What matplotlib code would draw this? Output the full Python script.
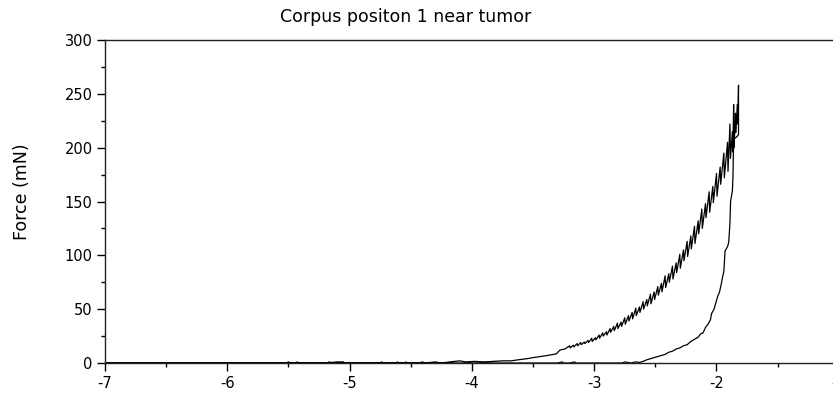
import numpy as np
import matplotlib
matplotlib.use("Agg")
import matplotlib.pyplot as plt
from matplotlib.ticker import MultipleLocator

# approach: flat part near zero with a few small blips
base_x = [-7.0, -5.52, -5.5, -5.48, -5.44, -5.43, -5.41, -5.18, -5.17, -5.15, -5.1,
          -5.05, -5.04, -4.75, -4.74, -4.72, -4.62, -4.61, -4.6, -4.55, -4.54, -4.53,
          -4.42, -4.41, -4.38, -4.3, -4.25, -4.18, -4.1, -4.05, -3.98, -3.9, -3.82,
          -3.75, -3.68, -3.62, -3.55, -3.5, -3.44, -3.38, -3.31, -3.28, -3.24]
base_f = [0, 0, 1, 0, 0, 1, 0, 0, 1, 0.5, 1,
          1, 0, 0, 1, 0, 0, 1, 0, 0, 1, 0,
          0, 1, 0, 1, 0, 1, 2, 1, 1.5, 1, 1.5,
          2, 2, 3, 4, 5, 6, 7, 8.5, 12, 13]

# approach: stick-slip teeth, (position, peak, trough)
tooth_x = [-3.20, -3.17, -3.14, -3.11, -3.08, -3.05, -3.02, -2.99, -2.96, -2.93,
           -2.90, -2.87, -2.84, -2.81, -2.78, -2.75, -2.72, -2.69, -2.66, -2.63,
           -2.60, -2.57, -2.54, -2.51, -2.48, -2.45, -2.42, -2.39, -2.36, -2.33,
           -2.30, -2.27, -2.24, -2.21, -2.18, -2.15, -2.12, -2.09, -2.06, -2.03,
           -2.00, -1.97, -1.94, -1.91, -1.89, -1.87, -1.86, -1.845, -1.83]
tooth_peak = [16, 16.5, 18, 19, 19.5, 21, 23, 23.5, 26, 28,
              29, 32, 34, 37, 38, 42, 44, 47, 51, 52,
              57, 59, 64, 66, 71, 74, 81, 83, 90, 93,
              101, 105, 113, 118, 127, 132, 143, 148, 159, 164,
              176, 182, 195, 205, 222, 215, 240, 232, 240]
tooth_low = [14, 15, 16, 17, 18, 19, 20, 21.5, 23, 25,
             26, 28.5, 30, 32, 34, 36, 39, 41, 44, 47,
             50, 53, 55, 59, 63, 66, 70, 75, 78, 84,
             88, 95, 99, 106, 111, 120, 125, 135, 140, 149,
             155, 166, 172, 178, 190, 196, 200, 214, 222]

# last spike at the turning point
turn_x = [-1.82, -1.82]
turn_f = [258, 212]

# retraction back to zero
ret_x = [-1.835, -1.86, -1.865, -1.87, -1.885, -1.89, -1.90, -1.91, -1.93, -1.94,
         -1.95, -1.96, -1.975, -1.99, -2.0, -2.02, -2.04, -2.05, -2.07, -2.09,
         -2.11, -2.13, -2.15, -2.18, -2.21, -2.24, -2.27, -2.30, -2.33, -2.36,
         -2.39, -2.42, -2.45, -2.48, -2.51, -2.54, -2.57, -2.60, -2.63, -2.66,
         -2.70, -2.75, -2.77, -2.80, -3.15, -3.16, -3.2, -3.25, -3.26, -3.3, -7.0]
ret_f = [210, 208, 175, 160, 150, 130, 112, 108, 104, 85,
         80, 74, 66, 62, 58, 50, 46, 40, 36, 33,
         28, 27, 24, 22, 20, 17, 16, 14, 13, 11,
         10, 8, 7, 6, 5, 4, 3, 1.5, 0.5, 1,
         0, 1, 0, 0, 0, 1, 0, 0, 1, 0, 0]

# build the teeth polyline: slow rise to a peak, sharp drop to the trough
tx, tf = [], []
for x, p, lo in zip(tooth_x, tooth_peak, tooth_low):
    tx += [x, x + 0.004]
    tf += [p, lo]

xs = base_x + tx + turn_x + ret_x
fs = base_f + tf + turn_f + ret_f

plt.rcParams['font.family'] = ['DejaVu Sans']
plt.rcParams['axes.unicode_minus'] = False

fig = plt.figure(figsize=(8.33, 3.93), dpi=100)
ax = fig.add_axes([105 / 833, 30 / 393, 733.8 / 833, 323 / 393])

ax.plot(xs, fs, color="k", lw=0.9)

ax.set_xlim(-7, -1)
ax.set_ylim(0, 300)
ax.xaxis.set_major_locator(MultipleLocator(1))
ax.xaxis.set_minor_locator(MultipleLocator(0.5))
ax.yaxis.set_major_locator(MultipleLocator(50))
ax.yaxis.set_minor_locator(MultipleLocator(25))
ax.tick_params(which="major", direction="out", length=6, width=1, labelsize=10.5, colors="k")
ax.tick_params(which="minor", direction="out", length=3, width=1)
ax.tick_params(axis="y", pad=3)
ax.tick_params(axis="x", pad=3)

for s in ax.spines.values():
    s.set_linewidth(1)
    s.set_color("#222222")

fig.text(406 / 833, 1 - 17 / 393, "Corpus positon 1 near tumor", ha="center", va="center", fontsize=12.5)
fig.text(22 / 833, 1 - 192 / 393, "Force (mN)", ha="center", va="center", rotation=90, fontsize=12.5)

plt.savefig("out.png", dpi=100)
